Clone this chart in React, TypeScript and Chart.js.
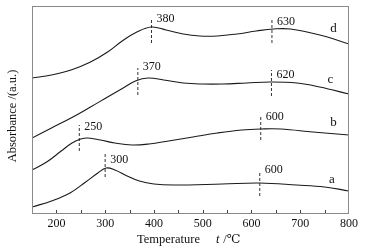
import React, { useEffect, useRef } from "react";
import { Chart, registerables } from "chart.js";

Chart.register(...registerables);

// Curves: temperature (°C) and absorbance (arbitrary units)
const tempA = [150, 190, 228, 260, 285, 302, 320, 345, 370, 400, 440, 540, 617, 693, 750, 800];
const absA = [7, 13, 21, 32, 41, 46, 44, 38, 33, 30, 29, 30, 31, 29, 27, 23];

const tempB = [150, 180, 210, 232, 250, 265, 290, 320, 355, 390, 430, 480, 530, 580, 620, 660, 726, 800];
const absB = [44, 52, 63, 71, 75, 76, 74, 71, 69, 70, 73, 77, 81, 84, 85, 85, 82, 79];

const tempC = [150, 190, 230, 270, 305, 337, 362, 388, 420, 460, 500, 540, 590, 638, 693, 740, 800];
const absC = [76, 86, 96, 107, 117, 126, 133, 136, 134, 131, 130, 130, 131, 132, 131, 127, 120];

const tempD = [150, 190, 230, 270, 305, 335, 365, 395, 425, 460, 494, 530, 570, 610, 645, 680, 740, 800];
const absD = [136, 139, 144, 152, 162, 173, 182, 187, 184, 180, 178, 178, 180, 183, 185, 185, 179, 170];

// Peak marker dashes
const dashTemps = [300, 617, 247, 619, 367, 641, 395, 642];
const dashLow = [37, 18, 63, 74, 119, 118, 171, 171];
const dashHigh = [61, 42, 89, 97, 146, 144, 196, 195];

// Peak labels
const peakTexts = ["300", "600", "250", "600", "370", "620", "380", "630"];
const peakLabelAbs = [54, 44, 87, 97, 147, 139, 195, 192];

// Curve names
const curveNames = ["a", "b", "c", "d"];
const curveNameTemp = [765, 768, 762, 768];
const curveNameAbs = [34, 91, 134, 185];

const xTicks = [200, 300, 400, 500, 600, 700, 800];

const SERIF = "'Liberation Serif', 'DejaVu Serif', serif";

export default function App() {
  const ref = useRef<HTMLCanvasElement | null>(null);

  useEffect(() => {
    document.body.style.margin = "0";
    const canvas = ref.current;
    if (!canvas) return;

    const curves = [
      [tempA, absA],
      [tempB, absB],
      [tempC, absC],
      [tempD, absD],
    ];
    const datasets: any[] = curves.map(([t, v]) => ({
      data: t.map((x, i) => ({ x, y: v[i] })),
      borderColor: "#1a1a1a",
      borderWidth: 1.1,
      pointRadius: 0,
      tension: 0.4,
      fill: false,
    }));
    dashTemps.forEach((t, i) => {
      datasets.push({
        data: [
          { x: t, y: dashLow[i] },
          { x: t, y: dashHigh[i] },
        ],
        borderColor: "#333",
        borderWidth: 1,
        borderDash: [3, 2],
        pointRadius: 0,
        tension: 0,
        fill: false,
      });
    });

    const overlay = {
      id: "overlay",
      afterDatasetsDraw(chart: any) {
        const { ctx, chartArea, scales } = chart;
        const x = scales.x;
        const y = scales.y;
        ctx.save();
        // frame
        ctx.strokeStyle = "#8a8a8a";
        ctx.lineWidth = 1;
        ctx.strokeRect(
          Math.round(chartArea.left) + 0.5,
          Math.round(chartArea.top) + 0.5,
          Math.round(chartArea.right - chartArea.left) - 1,
          Math.round(chartArea.bottom - chartArea.top) - 1
        );
        // inside ticks every 50
        ctx.strokeStyle = "#444";
        for (let t = 200; t < 800; t += 50) {
          const px = Math.round(x.getPixelForValue(t)) + 0.5;
          ctx.beginPath();
          ctx.moveTo(px, chartArea.bottom - 1);
          ctx.lineTo(px, chartArea.bottom - 4);
          ctx.stroke();
        }
        // peak labels
        ctx.fillStyle = "#111";
        ctx.font = "12px " + SERIF;
        ctx.textBaseline = "middle";
        ctx.textAlign = "left";
        peakTexts.forEach((s, i) => {
          const px = x.getPixelForValue(dashTemps[i]) + 5;
          const py = y.getPixelForValue(peakLabelAbs[i]);
          ctx.fillText(s, px, py);
        });
        ctx.font = "13px " + SERIF;
        ctx.textAlign = "center";
        curveNames.forEach((s, i) => {
          ctx.fillText(
            s,
            x.getPixelForValue(curveNameTemp[i]),
            y.getPixelForValue(curveNameAbs[i])
          );
        });
        // x title
        ctx.textAlign = "left";
        ctx.font = "12.5px " + SERIF;
        const ty = 240;
        ctx.fillText("Temperature", 137, ty);
        ctx.font = "italic 12.5px " + SERIF;
        ctx.fillText("t", 216, ty);
        ctx.font = "12.5px " + SERIF;
        ctx.fillText(" /\u2103", 220, ty);
        // y title
        ctx.translate(13, 116);
        ctx.rotate(-Math.PI / 2);
        ctx.textAlign = "center";
        ctx.fillText("Absorbance /(a.u.)", 0, 0);
        ctx.restore();
      },
    };

    const chart = new Chart(canvas, {
      type: "line",
      data: { datasets },
      options: {
        animation: false,
        responsive: false,
        maintainAspectRatio: false,
        plugins: { legend: { display: false }, tooltip: { enabled: false } },
        layout: { padding: { left: 32, right: 16, top: 6, bottom: 0 } },
        scales: {
          x: {
            type: "linear",
            min: 150,
            max: 800,
            afterBuildTicks: (scale: any) => {
              scale.ticks = xTicks.map((v) => ({ value: v }));
            },
            afterFit: (scale: any) => {
              scale.height = 35;
            },
            grid: { display: false, drawTicks: false },
            border: { display: false },
            ticks: {
              padding: 3,
              color: "#111",
              font: { family: SERIF, size: 12 },
              maxRotation: 0,
            },
          },
          y: {
            type: "linear",
            min: 0,
            max: 208,
            display: false,
          },
        },
      },
      plugins: [overlay],
    });
    return () => chart.destroy();
  }, []);

  return (
    <div style={{ width: 365, height: 249 }}>
      <canvas ref={ref} width={365} height={249} style={{ display: "block" }} />
    </div>
  );
}
